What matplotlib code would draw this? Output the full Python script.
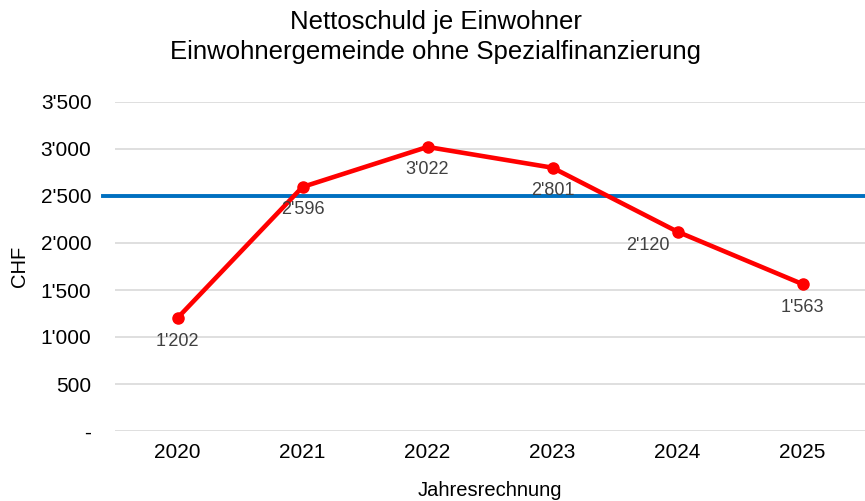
import matplotlib
matplotlib.use("Agg")
import matplotlib.pyplot as plt
from matplotlib.ticker import FuncFormatter

years = ["2020", "2021", "2022", "2023", "2024", "2025"]
values = [1202, 2596, 3022, 2801, 2120, 1563]
threshold = 2500
yticks = [0, 500, 1000, 1500, 2000, 2500, 3000, 3500]

plt.rcParams['font.family'] = ['Liberation Sans', 'DejaVu Sans']

fig = plt.figure(figsize=(8.65, 5.01), dpi=100)
ax = fig.add_axes([115/865, 70/501, 750/865, 329/501])

def fmt(v, pos=None):
    if v == 0:
        return "-"
    return f"{int(v):,}".replace(",", "'")

x = list(range(len(years)))
ax.set_xlim(-0.5, len(years) - 0.5)
ax.set_ylim(0, 3500)
ax.set_yticks(yticks)
ax.yaxis.set_major_formatter(FuncFormatter(fmt))
ax.grid(axis='y', color='#d9d9d9', linewidth=1.2)
ax.set_axisbelow(True)
for s in ax.spines.values():
    s.set_visible(False)
ax.tick_params(axis='both', length=0, labelsize=15, colors='#000000')
ax.tick_params(axis='x', pad=9)
ax.tick_params(axis='y', pad=17)
ax.set_xticks(x)
ax.set_xticklabels(years)

ax.axhline(threshold, xmin=-12/750, xmax=1, color='#0070c0', linewidth=2.8, clip_on=False, zorder=2)
ax.plot(x, values, color='#ff0000', linewidth=3.3, marker='o', markersize=8, zorder=3)

offsets = {4: (-30, -14)}
for i, v in enumerate(values):
    dx, dy = offsets.get(i, (0, -23))
    ax.annotate(fmt(v), (i, v), xytext=(dx, dy), textcoords='offset pixels',
                ha='center', va='center', fontsize=13, color='#404040', zorder=4)

fig.text(19/865, 1 - 266/501, "CHF", rotation=90, ha='center', va='center', fontsize=14.5)
fig.text(490/865, 1 - 490/501, "Jahresrechnung", ha='center', va='center', fontsize=14.5)
fig.text(436/865, 1 - 37/501, "Nettoschuld je Einwohner\nEinwohnergemeinde ohne Spezialfinanzierung",
         ha='center', va='center', fontsize=18.5, linespacing=1.3)

fig.savefig("out.png", dpi=100)
